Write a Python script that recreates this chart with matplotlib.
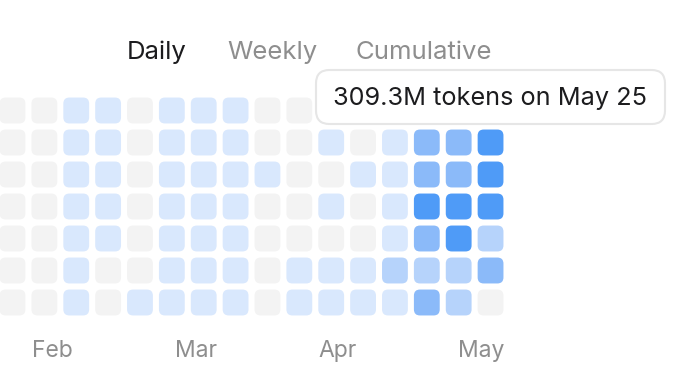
import numpy as np
import matplotlib.pyplot as plt
from matplotlib.colors import ListedColormap, BoundaryNorm
from matplotlib.patches import FancyBboxPatch

plt.rcParams['font.family'] = ['Inter', 'DejaVu Sans']

# daily token usage (millions), one list per weekday row, one value per week column
sun = [0, 0, 18, 15, 0, 20, 22, 19, 0, 0, 12, 0, 25, 160, 170, 290]
mon = [0, 0, 16, 14, 0, 21, 18, 17, 0, 0, 14, 0, 10, 150, 160, 285]
tue = [0, 0, 17, 19, 0, 15, 20, 23, 22, 0, 0, 12, 11, 155, 150, 280]
wed = [0, 0, 20, 16, 0, 18, 24, 21, 0, 0, 15, 0, 13, 270, 309.3, 275]
thu = [0, 0, 14, 22, 0, 16, 19, 25, 0, 0, 0, 0, 12, 165, 295, 85]
fri = [0, 0, 19, 0, 0, 23, 17, 20, 0, 14, 16, 13, 80, 75, 90, 170]
sat = [0, 0, 21, 0, 15, 22, 16, 18, 0, 12, 18, 15, 11, 180, 70, 0]
tokens = np.array([sun, mon, tue, wed, thu, fri, sat])

months = ["Feb", "Mar", "Apr", "May"]
month_pos = [1.24, 5.76, 10.2, 14.7]
tabs = ["Daily", "Weekly", "Cumulative"]
tooltip = "309.3M tokens on May 25"

cmap = ListedColormap(["#f3f3f3", "#d9e8fd", "#b6d3fb", "#8bbaf9", "#4f9bf7"])
norm = BoundaryNorm([-1, 0.5, 50, 120, 220, 1000], cmap.N)

fig = plt.figure(figsize=(6.84, 3.86), dpi=100)
ax = fig.add_axes([0, 0, 1, 1])
px_x, px_y = 31.87, 32.0
x0 = -12.5 / px_x
y0 = -110.5 / px_y
ax.set_xlim(x0, x0 + 684 / px_x)
ax.set_ylim(y0 + 386 / px_y, y0)
ax.axis("off")

size = 0.81
for d in range(tokens.shape[0]):
    for w in range(tokens.shape[1]):
        ax.add_patch(FancyBboxPatch(
            (w - size / 2, d - size / 2), size, size,
            boxstyle="round,pad=0,rounding_size=0.19",
            fc=cmap(norm(tokens[d, w])), ec="none", zorder=1))

for m, p in zip(months, month_pos):
    ax.text(p, 7.52, m, ha="center", va="center", fontsize=16.5, color="#8e8e8e")

# tooltip over the hovered cell
tx0, tx1 = (316 - 12.5) / px_x, (665 - 12.5) / px_x
ty0, ty1 = 70 / px_y + y0, 124 / px_y + y0
ax.add_patch(FancyBboxPatch(
    (tx0, ty0), tx1 - tx0, ty1 - ty0,
    boxstyle="round,pad=0,rounding_size=0.42",
    fc="white", ec="#e6e6e6", lw=1.5, zorder=3))
ax.text((tx0 + tx1) / 2, (ty0 + ty1) / 2 + 0.04, tooltip, ha="center", va="center",
        fontsize=18.2, color="#1c1c1e", zorder=4)

for t, x, c in zip(tabs, [157, 272, 424], ["#1c1c1e", "#8e8e8e", "#8e8e8e"]):
    fig.text(x / 684, 1 - 52.5 / 386, t, ha="center", va="center", fontsize=18.5, color=c)

fig.savefig("out.png", dpi=100, facecolor="white")
